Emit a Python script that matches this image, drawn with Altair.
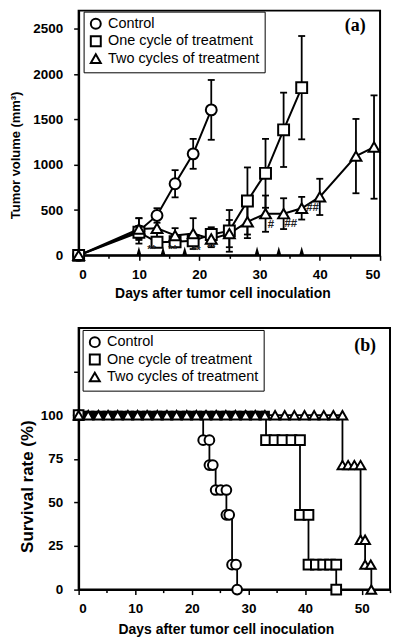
import altair as alt
import pandas as pd

GROUPS = ["Control", "One cycle of treatment", "Two cycles of treatment"]
SHAPES = ["circle", "square", "triangle-up"]

# ---------------- Panel (a): tumor volume ----------------
ctrl_days = [0, 10, 13, 16, 19, 22]
ctrl_vol = [0, 270, 440, 790, 1120, 1605]
ctrl_err = [0, 140, 80, 150, 165, 330]

one_days = [0, 10, 13, 16, 19, 22, 25, 28, 31, 34, 37]
one_vol = [0, 255, 145, 150, 160, 230, 270, 600, 905, 1385, 1850]
one_err = [0, 70, 40, 50, 50, 80, 230, 370, 380, 410, 570]

two_days = [0, 10, 13, 16, 19, 22, 25, 28, 31, 34, 37, 40, 46, 49]
two_vol = [0, 290, 300, 220, 240, 180, 240, 370, 460, 460, 520, 645, 1095, 1195]
two_err = [0, 120, 100, 80, 170, 90, 150, 180, 200, 170, 125, 200, 410, 570]

treat_days = [10, 14, 17.6, 29.6, 33.2, 37]

sig_days = [12.1, 15.6, 19.5, 22.0, 31.9, 35.2, 38.8]
sig_vol = [55, 55, 45, 85, 336, 347, 526]
sig_text = ["**", "**", "**", "**", "#", "##", "##"]

# ---------------- Panel (b): survival ----------------
ctrl_surv_days = [0, 22.0, 23.1, 23.1, 23.7, 24.2, 25.1, 26.1, 26.1, 26.6, 27.1, 27.8, 28.0]
ctrl_surv = [100, 85.7, 85.7, 71.4, 71.4, 57.1, 57.1, 57.1, 42.9, 42.9, 14.3, 14.3, 0]

one_surv_days = [0, 33.1, 34.6, 36.0, 37.6, 39.1, 39.1, 40.6, 40.6, 41.9, 43.2, 44.4, 45.5, 45.5]
one_surv = [100, 85.7, 85.7, 85.7, 85.7, 85.7, 42.9, 42.9, 14.3, 14.3, 14.3, 14.3, 14.3, 0]
one_band_days = [0, 1, 2, 3, 4, 5, 6, 7, 8, 9, 10, 11, 12, 13, 14, 15, 16,
                 17, 18, 19, 20, 21, 22, 23, 24, 25, 26, 27, 28, 29, 30, 31, 32, 33]

two_surv_days = [0, 1.7, 3.5, 5.2, 6.9, 8.7, 10.4, 12.1, 13.9, 15.6, 17.3, 19.1, 20.8,
                 22.5, 24.3, 26.0, 27.7, 29.5, 31.2, 32.9, 34.7, 36.4, 38.1, 39.9, 41.6,
                 43.3, 45.0, 46.6, 46.6, 47.6, 48.7, 49.8, 49.8, 50.6, 50.6, 51.6, 51.7]
two_surv = [100] * 28 + [71.4, 71.4, 71.4, 71.4, 28.6, 28.6, 14.3, 14.3, 0]

FONT = "Liberation Sans"


def tumor_frame():
    rows = []
    for g, d, v, e in [(GROUPS[0], ctrl_days, ctrl_vol, ctrl_err),
                       (GROUPS[1], one_days, one_vol, one_err),
                       (GROUPS[2], two_days, two_vol, two_err)]:
        for i, (dd, vv, ee) in enumerate(zip(d, v, e)):
            rows.append({"group": g, "day": dd, "vol": vv, "err": ee,
                         "lo": vv - ee, "hi": vv + ee, "i": i})
    return pd.DataFrame(rows)


def surv_frame():
    rows = []
    for k, (g, d, v) in enumerate([(GROUPS[0], ctrl_surv_days, ctrl_surv),
                                   (GROUPS[1], one_surv_days, one_surv),
                                   (GROUPS[2], two_surv_days, two_surv)]):
        for i, (dd, vv) in enumerate(zip(d, v)):
            rows.append({"group": g, "day": dd, "surv": vv, "i": i, "grp": k})
    return pd.DataFrame(rows)


tumor = tumor_frame()
errs = tumor[tumor["err"] > 0]
surv = surv_frame()

tick_cond10 = {"condition": {"test": "datum.value % 10 === 0", "value": 5}, "value": 3}


def legend_def(x, y):
    return alt.Legend(title=None, orient="none", legendX=x, legendY=y, direction="vertical",
                      fillColor="white", strokeColor="black", padding=5, symbolSize=100,
                      symbolStrokeWidth=2, labelOffset=5,
                      labelFont=FONT, labelFontSize=14.5, labelColor="black", rowPadding=-1.5)


# ----- panel (a) encodings -----
xa_axis = alt.Axis(values=list(range(0, 51, 5)), format="d",
                   labelExpr="datum.value % 10 === 0 ? datum.label : ''",
                   tickSize=tick_cond10, labelPadding=7.5,
                   title="Days after tumor cell inoculation", titleX=144.5, titleY=38,
                   titleBaseline="middle")
ya_axis = alt.Axis(values=list(range(0, 2501, 250)), format="d",
                   labelExpr="datum.value % 500 === 0 ? datum.label : ''",
                   tickSize={"condition": {"test": "datum.value % 500 === 0", "value": 5}, "value": 3},
                   labelPadding=11, title="Tumor volume (mm³)", titleX=-63.5, titleY=145,
                   titleBaseline="middle", titleFontSize=13)
xa_scale = alt.Scale(domain=[0, 50], nice=False, zero=False)
ya_scale = alt.Scale(domain=[0, 2700], nice=False)


def XA(field="day"):
    return alt.X(f"{field}:Q", scale=xa_scale, axis=xa_axis)


def YA(field):
    return alt.Y(f"{field}:Q", scale=ya_scale, axis=ya_axis)


a_rules = alt.Chart(errs).mark_rule(color="black", strokeWidth=1.8).encode(
    x=XA(), y=YA("lo"), y2="hi:Q")
a_cap_lo = alt.Chart(errs).mark_tick(orient="horizontal", size=7, thickness=1.8, color="black", opacity=1).encode(
    x=XA(), y=YA("lo"))
a_cap_hi = alt.Chart(errs).mark_tick(orient="horizontal", size=7, thickness=1.8, color="black", opacity=1).encode(
    x=XA(), y=YA("hi"))
a_lines = alt.Chart(tumor).mark_line(color="black", strokeWidth=2).encode(
    x=XA(), y=YA("vol"), detail="group:N", order="i:Q")
a_points = alt.Chart(tumor).mark_point(filled=True, color="white", stroke="black", strokeWidth=2,
                                       size=120, opacity=1).encode(
    x=XA(), y=YA("vol"),
    shape=alt.Shape("group:N", scale=alt.Scale(domain=GROUPS, range=SHAPES),
                    legend=legend_def(5, 1)))
sig_df = pd.DataFrame({"day": sig_days, "vol": sig_vol, "txt": sig_text})
a_sig = alt.Chart(sig_df).mark_text(font=FONT, fontSize=11.5, fontWeight="bold", color="#222",
                                    baseline="middle").encode(
    x=XA(), y=YA("vol"), text="txt:N")
treat_df = pd.DataFrame({"day": treat_days})
a_treat = alt.Chart(treat_df).mark_point(shape="M0,-1L0.55,1L-0.55,1Z", filled=True, color="black",
                                         size=81, yOffset=-4.5, opacity=1).encode(
    x=XA(), y=alt.datum(0, scale=ya_scale))
a_label = alt.Chart(pd.DataFrame({"t": ["(a)"]})).mark_text(
    font="Liberation Serif", fontWeight="bold", fontSize=18, color="black",
    align="center", baseline="middle").encode(text="t:N", x=alt.value(278), y=alt.value(15))

panel_a = alt.layer(a_rules, a_cap_lo, a_cap_hi, a_lines, a_points, a_sig, a_treat, a_label).properties(
    width=303, height=246)

# ----- panel (b) encodings -----
xb_axis = alt.Axis(values=list(range(0, 56, 5)), format="d",
                   labelExpr="datum.value % 10 === 0 ? datum.label : ''",
                   tickSize=tick_cond10, labelPadding=7,
                   title="Days after tumor cell inoculation", titleX=148, titleY=40,
                   titleBaseline="middle")
yb_axis = alt.Axis(values=[0, 25, 50, 75, 100, 125], format="d",
                   labelExpr="datum.value <= 100 ? datum.label : ''",
                   tickSize=5, labelPadding=11, title="Survival rate (%)", titleX=-51, titleY=159,
                   titleBaseline="middle", titleFontSize=17)
xb_scale = alt.Scale(domain=[0, 55], nice=False, zero=False)
yb_scale = alt.Scale(domain=[0, 150], nice=False)


def XB():
    return alt.X("day:Q", scale=xb_scale, axis=xb_axis)


def YB():
    return alt.Y("surv:Q", scale=yb_scale, axis=yb_axis)


b_lines = alt.Chart(surv).mark_line(color="black", strokeWidth=1.8, interpolate="step-after").encode(
    x=XB(), y=YB(), detail="group:N", order="i:Q")
band_df = pd.DataFrame({"day": one_band_days, "surv": [100] * len(one_band_days)})
b_band = alt.Chart(band_df).mark_point(shape="square", filled=True, color="black", size=80,
                                       opacity=1).encode(x=XB(), y=YB())
b_points = alt.Chart(surv).mark_point(filled=True, color="white", stroke="black", strokeWidth=2,
                                      size=95, opacity=1).encode(
    x=XB(), y=YB(),
    shape=alt.Shape("group:N", scale=alt.Scale(domain=GROUPS, range=SHAPES),
                    legend=legend_def(4, 2)),
    order="grp:Q")
b_label = alt.Chart(pd.DataFrame({"t": ["(b)"]})).mark_text(
    font="Liberation Serif", fontWeight="bold", fontSize=18, color="black",
    align="center", baseline="middle").encode(text="t:N", x=alt.value(288), y=alt.value(18))

panel_b = alt.layer(b_lines, b_band, b_points, b_label).properties(width=313, height=263)

chart = alt.vconcat(panel_a, panel_b, spacing=26).resolve_scale(
    shape="independent").resolve_legend(shape="independent").properties(padding=0).configure_view(
    stroke="black", strokeWidth=2
).configure_axis(
    domainColor="black", domainWidth=2, tickColor="black", tickWidth=1.5, grid=False,
    labelFont=FONT, labelFontWeight="bold", labelFontSize=13.5, labelColor="black",
    titleFont=FONT, titleFontWeight="bold", titleFontSize=14, titleColor="black"
)

chart.save("out.html", embed_options={"renderer": "svg", "actions": False})
